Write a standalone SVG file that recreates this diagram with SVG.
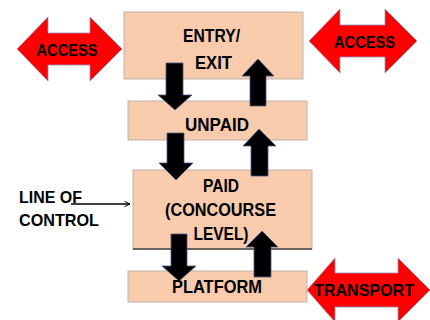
<svg xmlns="http://www.w3.org/2000/svg" width="430" height="320" viewBox="0 0 430 320">
<defs>
<style>
.box{fill:#F8CBAD;stroke:#BFB3AA;stroke-width:1}
.red{fill:#FF0000;stroke:#8A93B8;stroke-width:0.8}
.blk{fill:#000000;stroke:#4A5A8A;stroke-width:0.8}
text{font-family:"Liberation Sans",Arial,sans-serif;font-weight:bold;fill:#000000;text-anchor:middle}
.lbl{font-size:18px}
.acc{font-size:16.5px}
.loc{font-size:17px;text-anchor:start}
</style>
<marker id="open" viewBox="0 0 10 10" refX="9" refY="5" markerWidth="7" markerHeight="7" markerUnits="userSpaceOnUse" orient="auto">
<path d="M1,1 L9,5 L1,9" fill="none" stroke="#000" stroke-width="1.4"/>
</marker>
</defs>
<rect width="430" height="320" fill="#FFFFFF"/>

<g id="access-left">
<polygon class="red" points="17,49 48,17 48,33 90,33 90,17 122,49 90,81 90,65 48,65 48,81"/>
<text class="acc" x="67" y="56" textLength="61" lengthAdjust="spacingAndGlyphs">ACCESS</text>
</g>
<g id="access-right">
<polygon class="red" points="309,41 340,9 340,25 385,25 385,9 417,41 385,73 385,57 340,57 340,73"/>
<text class="acc" x="364.5" y="48" textLength="61" lengthAdjust="spacingAndGlyphs">ACCESS</text>
</g>
<g id="transport">
<polygon class="red" points="307,290 335,258 335,273 398,273 398,258 430,290 398,322 398,307 335,307 335,322"/>
<text class="acc" x="364" y="296" textLength="100" lengthAdjust="spacingAndGlyphs">TRANSPORT</text>
</g>

<g id="entry-exit">
<rect class="box" x="124" y="12" width="179" height="67"/>
</g>
<g id="unpaid">
<rect class="box" x="128" y="101" width="179" height="39"/>
</g>
<g id="paid">
<rect class="box" x="133" y="170" width="179" height="79"/>
<line x1="133" y1="249" x2="312" y2="249" stroke="#000" stroke-width="1.2"/>
</g>
<g id="platform">
<rect class="box" x="128" y="271" width="179" height="31"/>
</g>

<g id="connectors">
<polygon class="blk" points="166,63 183,63 183,95 192,95 175,110 158,95 166,95"/>
<polygon class="blk" points="167,133 184,133 184,163 193,163 176,180 159,163 167,163"/>
<polygon class="blk" points="171,234 187,234 187,266 196,266 179,281 162,266 171,266"/>
<polygon class="blk" points="258,59 274,76 266,76 266,106 250,106 250,76 242,76"/>
<polygon class="blk" points="259,129 276,146 268,146 268,176 251,176 251,146 243,146"/>
<polygon class="blk" points="262,231 278,247 271,247 271,277 254,277 254,247 246,247"/>
<line x1="71" y1="204" x2="130" y2="204" stroke="#000" stroke-width="1.3" marker-end="url(#open)"/>
</g>

<g id="labels">
<text class="lbl" x="211.5" y="42" textLength="57" lengthAdjust="spacingAndGlyphs">ENTRY/</text>
<text class="lbl" x="213.5" y="69" textLength="37" lengthAdjust="spacingAndGlyphs">EXIT</text>
<text class="lbl" x="217" y="131" textLength="64" lengthAdjust="spacingAndGlyphs">UNPAID</text>
<text class="lbl" x="221" y="192" textLength="36" lengthAdjust="spacingAndGlyphs">PAID</text>
<text class="lbl" x="220.5" y="216" textLength="111" lengthAdjust="spacingAndGlyphs">(CONCOURSE</text>
<text class="lbl" x="221" y="240" textLength="55" lengthAdjust="spacingAndGlyphs">LEVEL)</text>
<text class="lbl" x="217" y="293" textLength="90" lengthAdjust="spacingAndGlyphs">PLATFORM</text>
</g>
<g id="line-of-control">
<text class="loc" x="19" y="203" textLength="63" lengthAdjust="spacingAndGlyphs">LINE OF</text>
<text class="loc" x="19" y="226" textLength="80" lengthAdjust="spacingAndGlyphs">CONTROL</text>
</g>
</svg>
